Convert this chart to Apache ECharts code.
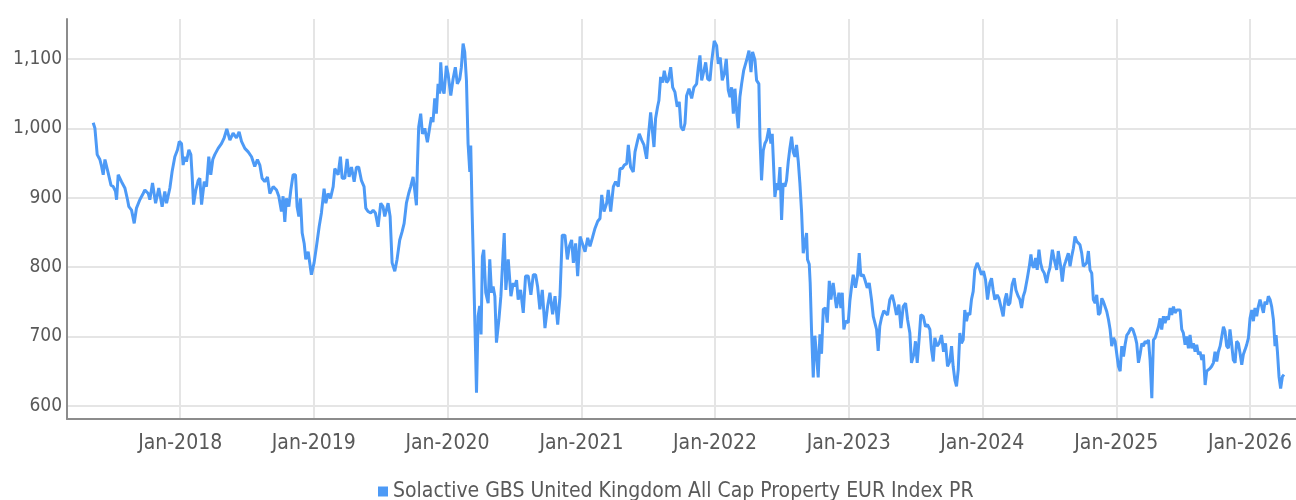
<!DOCTYPE html>
<html>
<head>
<meta charset="utf-8">
<script src="https://cdn.jsdelivr.net/npm/echarts@6/dist/echarts.min.js"></script>
<style>
  html, body { margin: 0; padding: 0; background: #fff; }
  #chart { width: 1296px; height: 500px; }
</style>
</head>
<body>
<div id="chart"></div>
<script>
const seriesName = 'Solactive GBS United Kingdom All Cap Property EUR Index PR';

// time of each reading, as decimal years
const years = [
  2017.349, 2017.362, 2017.379, 2017.399, 2017.412, 2017.424, 2017.437, 2017.449, 2017.462, 2017.482,
  2017.499, 2017.516, 2017.524, 2017.536, 2017.561, 2017.586, 2017.606, 2017.616, 2017.636, 2017.656,
  2017.673, 2017.698, 2017.723, 2017.736, 2017.761, 2017.773, 2017.793, 2017.816, 2017.840, 2017.865,
  2017.885, 2017.898, 2017.923, 2017.940, 2017.960, 2017.980, 2017.993, 2018.010, 2018.022, 2018.035,
  2018.047, 2018.065, 2018.080, 2018.090, 2018.100, 2018.117, 2018.135, 2018.147, 2018.160, 2018.180,
  2018.197, 2018.214, 2018.229, 2018.244, 2018.259, 2018.284, 2018.309, 2018.329, 2018.349, 2018.372,
  2018.396, 2018.421, 2018.441, 2018.459, 2018.484, 2018.509, 2018.534, 2018.558, 2018.578, 2018.596,
  2018.613, 2018.633, 2018.653, 2018.671, 2018.696, 2018.721, 2018.738, 2018.758, 2018.770, 2018.783,
  2018.795, 2018.813, 2018.828, 2018.845, 2018.863, 2018.875, 2018.888, 2018.900, 2018.913, 2018.928,
  2018.940, 2018.958, 2018.982, 2019.002, 2019.020, 2019.040, 2019.057, 2019.077, 2019.090, 2019.107,
  2019.125, 2019.145, 2019.157, 2019.169, 2019.182, 2019.199, 2019.212, 2019.232, 2019.249, 2019.264,
  2019.282, 2019.302, 2019.319, 2019.336, 2019.356, 2019.376, 2019.389, 2019.406, 2019.426, 2019.444,
  2019.461, 2019.481, 2019.501, 2019.518, 2019.531, 2019.556, 2019.571, 2019.586, 2019.606, 2019.623,
  2019.643, 2019.661, 2019.676, 2019.693, 2019.710, 2019.725, 2019.743, 2019.755, 2019.768, 2019.775,
  2019.785, 2019.800, 2019.813, 2019.830, 2019.850, 2019.868, 2019.880, 2019.892, 2019.905, 2019.917,
  2019.930, 2019.942, 2019.950, 2019.962, 2019.975, 2019.992, 2020.005, 2020.025, 2020.042, 2020.059,
  2020.074, 2020.092, 2020.104, 2020.117, 2020.129, 2020.142, 2020.154, 2020.167, 2020.174, 2020.184,
  2020.197, 2020.209, 2020.217, 2020.229, 2020.241, 2020.251, 2020.261, 2020.271, 2020.286, 2020.304,
  2020.316, 2020.329, 2020.341, 2020.354, 2020.366, 2020.384, 2020.399, 2020.416, 2020.424, 2020.436,
  2020.454, 2020.474, 2020.491, 2020.503, 2020.516, 2020.528, 2020.546, 2020.566, 2020.583, 2020.603,
  2020.623, 2020.641, 2020.658, 2020.673, 2020.690, 2020.708, 2020.728, 2020.748, 2020.765, 2020.785,
  2020.803, 2020.823, 2020.840, 2020.857, 2020.877, 2020.895, 2020.910, 2020.927, 2020.940, 2020.957,
  2020.972, 2020.990, 2021.007, 2021.027, 2021.047, 2021.064, 2021.082, 2021.102, 2021.122, 2021.139,
  2021.152, 2021.169, 2021.189, 2021.201, 2021.219, 2021.239, 2021.256, 2021.276, 2021.289, 2021.306,
  2021.321, 2021.339, 2021.351, 2021.368, 2021.388, 2021.401, 2021.421, 2021.433, 2021.451, 2021.468,
  2021.488, 2021.501, 2021.518, 2021.531, 2021.543, 2021.555, 2021.570, 2021.580, 2021.593, 2021.608,
  2021.620, 2021.638, 2021.650, 2021.668, 2021.683, 2021.700, 2021.717, 2021.732, 2021.745, 2021.762,
  2021.775, 2021.787, 2021.805, 2021.825, 2021.842, 2021.862, 2021.875, 2021.887, 2021.900, 2021.917,
  2021.930, 2021.945, 2021.962, 2021.974, 2021.994, 2022.012, 2022.024, 2022.039, 2022.054, 2022.069,
  2022.084, 2022.099, 2022.112, 2022.124, 2022.137, 2022.149, 2022.161, 2022.174, 2022.186, 2022.199,
  2022.214, 2022.224, 2022.236, 2022.254, 2022.269, 2022.281, 2022.299, 2022.311, 2022.328, 2022.336,
  2022.348, 2022.361, 2022.373, 2022.386, 2022.403, 2022.418, 2022.428, 2022.436, 2022.448, 2022.461,
  2022.473, 2022.486, 2022.498, 2022.510, 2022.523, 2022.535, 2022.548, 2022.560, 2022.573, 2022.585,
  2022.598, 2022.610, 2022.623, 2022.635, 2022.648, 2022.660, 2022.673, 2022.685, 2022.692, 2022.705,
  2022.712, 2022.722, 2022.735, 2022.747, 2022.760, 2022.772, 2022.785, 2022.797, 2022.810, 2022.827,
  2022.840, 2022.855, 2022.867, 2022.884, 2022.897, 2022.909, 2022.927, 2022.942, 2022.952, 2022.964,
  2022.977, 2022.997, 2023.009, 2023.022, 2023.034, 2023.051, 2023.066, 2023.079, 2023.091, 2023.109,
  2023.121, 2023.139, 2023.154, 2023.171, 2023.184, 2023.196, 2023.209, 2023.221, 2023.233, 2023.246,
  2023.263, 2023.291, 2023.308, 2023.326, 2023.341, 2023.358, 2023.376, 2023.391, 2023.408, 2023.426,
  2023.441, 2023.458, 2023.470, 2023.490, 2023.500, 2023.513, 2023.528, 2023.540, 2023.558, 2023.575,
  2023.590, 2023.608, 2023.620, 2023.633, 2023.645, 2023.662, 2023.677, 2023.695, 2023.710, 2023.725,
  2023.740, 2023.757, 2023.770, 2023.782, 2023.795, 2023.807, 2023.820, 2023.832, 2023.844, 2023.857,
  2023.869, 2023.882, 2023.894, 2023.907, 2023.919, 2023.932, 2023.944, 2023.962, 2023.977, 2023.994,
  2024.009, 2024.024, 2024.039, 2024.056, 2024.069, 2024.081, 2024.094, 2024.111, 2024.124, 2024.139,
  2024.156, 2024.169, 2024.181, 2024.193, 2024.206, 2024.223, 2024.238, 2024.251, 2024.268, 2024.281,
  2024.293, 2024.306, 2024.318, 2024.336, 2024.351, 2024.363, 2024.373, 2024.385, 2024.398, 2024.410,
  2024.423, 2024.435, 2024.448, 2024.463, 2024.480, 2024.493, 2024.505, 2024.523, 2024.537, 2024.555,
  2024.567, 2024.585, 2024.597, 2024.610, 2024.622, 2024.642, 2024.655, 2024.667, 2024.680, 2024.692,
  2024.705, 2024.717, 2024.729, 2024.742, 2024.754, 2024.767, 2024.779, 2024.792, 2024.804, 2024.817,
  2024.829, 2024.842, 2024.854, 2024.867, 2024.879, 2024.892, 2024.904, 2024.917, 2024.929, 2024.942,
  2024.954, 2024.966, 2024.979, 2024.991, 2025.004, 2025.016, 2025.029, 2025.041, 2025.054, 2025.066,
  2025.079, 2025.091, 2025.109, 2025.124, 2025.141, 2025.153, 2025.166, 2025.178, 2025.191, 2025.203,
  2025.216, 2025.228, 2025.241, 2025.253, 2025.266, 2025.278, 2025.291, 2025.303, 2025.316, 2025.328,
  2025.340, 2025.353, 2025.365, 2025.378, 2025.390, 2025.403, 2025.415, 2025.428, 2025.440, 2025.453,
  2025.465, 2025.478, 2025.490, 2025.502, 2025.515, 2025.527, 2025.540, 2025.552, 2025.565, 2025.577,
  2025.590, 2025.602, 2025.615, 2025.627, 2025.640, 2025.652, 2025.665, 2025.677, 2025.689, 2025.702,
  2025.714, 2025.727, 2025.739, 2025.752, 2025.764, 2025.777, 2025.789, 2025.802, 2025.814, 2025.826,
  2025.839, 2025.851, 2025.864, 2025.876, 2025.889, 2025.901, 2025.914, 2025.926, 2025.939, 2025.951,
  2025.964, 2025.976, 2025.989, 2026.001, 2026.014, 2026.026, 2026.038, 2026.051, 2026.063, 2026.076,
  2026.088, 2026.101, 2026.113, 2026.126, 2026.138, 2026.151, 2026.163, 2026.176, 2026.188, 2026.196,
  2026.206, 2026.218, 2026.230, 2026.243, 2026.255
];

// index level at each reading
const values = [
  1008, 1000, 962, 955, 945, 933, 955, 957, 935, 918,
  916, 909, 897, 933, 923, 914, 897, 887, 882, 863,
  885, 897, 906, 911, 906, 897, 921, 892, 914, 887,
  909, 892, 914, 938, 959, 969, 981, 978, 947, 959,
  952, 969, 962, 930, 890, 911, 925, 928, 890, 923,
  916, 959, 933, 955, 962, 971, 978, 986, 999, 983,
  993, 986, 995, 981, 971, 966, 959, 945, 955, 947,
  928, 923, 930, 906, 916, 911, 902, 880, 902, 865,
  899, 887, 911, 933, 933, 887, 873, 899, 849, 834,
  811, 822, 789, 806, 830, 858, 878, 913, 892, 906,
  899, 916, 942, 944, 933, 959, 928, 928, 956, 930,
  944, 923, 944, 944, 925, 916, 885, 880, 878, 882,
  878, 858, 892, 887, 873, 892, 873, 806, 794, 811,
  839, 851, 863, 892, 906, 916, 930, 911, 889, 944,
  1002, 1021, 992, 1000, 980, 1002, 1016, 1009, 1043, 1021,
  1064, 1050, 1095, 1057, 1050, 1090, 1078, 1047, 1071, 1088,
  1064, 1071, 1088, 1122, 1110, 1069, 978, 937, 975, 882,
  782, 686, 619, 729, 744, 703, 815, 825, 763, 748,
  811, 763, 772, 758, 691, 724, 758, 822, 849, 767,
  811, 758, 777, 772, 781, 753, 767, 734, 787, 787,
  760, 789, 789, 772, 739, 767, 712, 744, 763, 732,
  758, 717, 758, 846, 846, 811, 830, 839, 806, 834,
  787, 844, 834, 822, 842, 830, 842, 856, 866, 870,
  904, 880, 892, 911, 880, 916, 923, 916, 942, 942,
  947, 949, 976, 944, 937, 966, 983, 992, 983, 976,
  956, 988, 1023, 997, 973, 1014, 1031, 1040, 1074, 1066,
  1083, 1066, 1069, 1088, 1059, 1052, 1031, 1038, 1002, 997,
  1007, 1047, 1057, 1043, 1059, 1064, 1088, 1105, 1069, 1083,
  1095, 1071, 1069, 1095, 1126, 1119, 1093, 1102, 1069, 1078,
  1100, 1055, 1045, 1059, 1021, 1057, 1026, 1000, 1045, 1064,
  1083, 1090, 1098, 1112, 1081, 1110, 1098, 1069, 1064, 988,
  925, 968, 978, 983, 1000, 978, 992, 956, 901, 921,
  911, 944, 868, 921, 916, 925, 952, 971, 988, 966,
  959, 976, 952, 921, 878, 820, 822, 849, 811, 804,
  777, 710, 641, 701, 672, 641, 703, 675, 739, 741,
  720, 780, 753, 777, 758, 741, 763, 741, 763, 710,
  722, 720, 751, 772, 789, 770, 787, 820, 787, 789,
  782, 770, 777, 753, 729, 720, 710, 679, 715, 727,
  737, 731, 753, 760, 748, 731, 746, 712, 743, 748,
  724, 705, 662, 676, 693, 662, 698, 731, 729, 714,
  717, 710, 681, 664, 698, 686, 690, 702, 678, 690,
  657, 664, 686, 657, 637, 628, 652, 705, 690, 695,
  738, 722, 734, 731, 753, 765, 796, 806, 799, 789,
  794, 782, 753, 777, 784, 767, 753, 760, 755, 743,
  729, 753, 762, 745, 748, 775, 784, 767, 758, 753,
  741, 758, 765, 784, 801, 818, 803, 799, 813, 796,
  825, 806, 796, 791, 777, 791, 799, 825, 811, 796,
  823, 801, 779, 801, 808, 820, 801, 815, 827, 844,
  837, 839, 832, 820, 801, 799, 806, 823, 796, 791,
  753, 748, 760, 731, 734, 755, 750, 748, 736, 724,
  710, 686, 698, 693, 695, 657, 650, 686, 671, 688,
  702, 705, 712, 710, 700, 690, 662, 674, 690, 686,
  693, 690, 695, 666, 611, 695, 698, 700, 714, 726,
  710, 729, 719, 729, 724, 741, 731, 743, 734, 738,
  736, 738, 710, 705, 688, 700, 683, 702, 683, 690,
  678, 688, 674, 678, 666, 674, 630, 650, 652, 654,
  657, 662, 678, 664, 678, 686, 688, 714, 707, 686,
  683, 710, 688, 666, 662, 693, 690, 676, 659, 674,
  681, 688, 698, 726, 738, 722, 741, 729, 743, 753,
  755, 734, 750, 746, 758, 753, 743, 724, 686, 702,
  678, 642, 625, 642, 645
];

const xStart = 2017.153;
const xEnd = 2026.345;

function yearToTime(y) {
  const yr = Math.floor(y);
  const a = Date.UTC(yr, 0, 1);
  const b = Date.UTC(yr + 1, 0, 1);
  return a + (y - yr) * (b - a);
}

const points = years.map((y, i) => [yearToTime(y), values[i]]);

const font = "'Liberation Sans Narrow', 'DejaVu Sans Condensed', 'Roboto', sans-serif";
const chart = echarts.init(document.getElementById('chart'), null, { renderer: 'canvas' });

const option = {
  useUTC: true,
  animation: false,
  backgroundColor: '#ffffff',
  grid: {
    left: 67,
    right: 0,
    top: 19,
    bottom: 81,
  },
  legend: {
    data: [seriesName],
    left: 373,
    top: 476,
    icon: 'rect',
    itemWidth: 10,
    itemHeight: 10,
    itemGap: 4,
    textStyle: {
      fontFamily: font,
      fontSize: 21,
      color: '#595959',
    },
  },
  xAxis: {
    type: 'time',
    min: yearToTime(xStart),
    max: yearToTime(xEnd),
    minInterval: 365 * 24 * 3600 * 1000,
    maxInterval: 366 * 24 * 3600 * 1000,
    axisLine: { show: true, lineStyle: { color: '#8c8c8c', width: 2 } },
    axisTick: { show: false },
    splitLine: {
      show: true,
      showMinLine: false,
      showMaxLine: false,
      lineStyle: { color: '#e5e5e5', width: 2 },
    },
    axisLabel: {
      fontFamily: font,
      fontSize: 21,
      color: '#595959',
      margin: 14,
      showMinLabel: false,
      showMaxLabel: false,
      formatter: (val) => 'Jan-' + new Date(val).getUTCFullYear(),
    },
  },
  yAxis: {
    type: 'value',
    min: 581,
    max: 1157.5,
    axisLine: { show: true, lineStyle: { color: '#8c8c8c', width: 2 } },
    axisTick: { show: false },
    splitLine: {
      show: true,
      showMinLine: false,
      showMaxLine: false,
      lineStyle: { color: '#e5e5e5', width: 2 },
    },
    axisLabel: {
      fontFamily: font,
      fontSize: 19,
      color: '#595959',
      margin: 5,
      showMinLabel: false,
      showMaxLabel: false,
      formatter: (v) => v.toLocaleString('en-US'),
    },
  },
  series: [
    {
      name: seriesName,
      type: 'line',
      data: points,
      showSymbol: false,
      sampling: 'none',
      lineStyle: { color: '#4d9af6', width: 3 },
      itemStyle: { color: '#4d9af6' },
    },
  ],
};

chart.setOption(option);
</script>
</body>
</html>
